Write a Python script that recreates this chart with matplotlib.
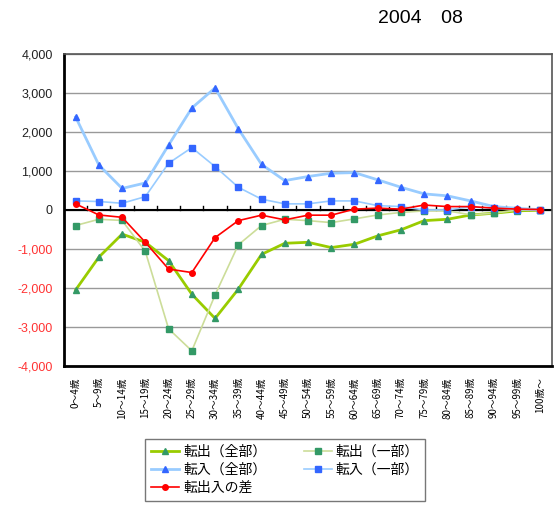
import matplotlib.pyplot as plt
from matplotlib.ticker import FuncFormatter

plt.rcParams['font.family'] = ['Noto Sans CJK JP', 'DejaVu Sans']

# age groups
ages = ['0～4歳', '5～9歳', '10～14歳', '15～19歳', '20～24歳', '25～29歳',
        '30～34歳', '35～39歳', '40～44歳', '45～49歳', '50～54歳', '55～59歳',
        '60～64歳', '65～69歳', '70～74歳', '75～79歳', '80～84歳', '85～89歳',
        '90～94歳', '95～99歳', '100歳～']

out_all = [-2050, -1210, -620, -830, -1300, -2160, -2780, -2030, -1140, -855,
           -830, -965, -880, -665, -510, -275, -240, -130, -85, -25, -5]
out_part = [-400, -240, -270, -1065, -3045, -3610, -2180, -895, -400, -240,
            -275, -325, -230, -130, -65, -25, -25, -125, -85, -5, -3]
in_all = [2380, 1150, 550, 690, 1660, 2610, 3125, 2080, 1165, 750,
          855, 940, 955, 770, 580, 410, 360, 230, 85, 40, 5]
in_part = [230, 215, 170, 340, 1195, 1595, 1110, 580, 275, 155,
           155, 230, 230, 110, 85, 0, 0, 80, 40, 10, 5]
diff = [155, -130, -190, -830, -1515, -1605, -710, -275, -135, -255,
        -135, -135, 20, 45, 20, 125, 85, 85, 45, 20, 10]

fig = plt.figure(figsize=(5.59, 5.07), dpi=100)
ax = fig.add_axes([0.1145, 0.278, 0.873, 0.616])

x = range(len(ages))
l1, = ax.plot(x, out_all, color='#99CC00', lw=2, marker='^', ms=5,
              mfc='#339966', mec='#339966', label='転出（全部）', zorder=3)
l3, = ax.plot(x, out_part, color='#CCDD99', lw=1.2, marker='s', ms=5,
              mfc='#339966', mec='#339966', label='転出（一部）', zorder=3)
l2, = ax.plot(x, in_all, color='#99CCFF', lw=2, marker='^', ms=5,
              mfc='#3366FF', mec='#3366FF', label='転入（全部）', zorder=3)
l4, = ax.plot(x, in_part, color='#99CCFF', lw=1.2, marker='s', ms=5,
              mfc='#3366FF', mec='#3366FF', label='転入（一部）', zorder=3)
l5, = ax.plot(x, diff, color='#FF0000', lw=1.2, marker='o', ms=4,
              mfc='#FF0000', mec='#FF0000', label='転出入の差', zorder=4)

ax.set_xlim(-0.5, len(ages) - 0.5)
ax.set_ylim(-4000, 4000)
ax.set_yticks(range(-4000, 4001, 1000))
ax.yaxis.set_major_formatter(FuncFormatter(lambda v, p: f'{int(v):,}'))
ax.grid(axis='y', color='#999999', lw=1)
ax.set_axisbelow(True)

# zero line with category ticks
ax.axhline(0, color='black', lw=1.5, zorder=2)
for b in range(1, len(ages)):
    ax.plot([b - 0.5, b - 0.5], [0, 90], color='black', lw=1, zorder=2)

ax.set_xticks(list(x))
ax.set_xticklabels(ages, rotation=90, fontsize=7)
ax.tick_params(axis='x', length=0, pad=8)
ax.tick_params(axis='y', length=0, pad=8)
for lbl, v in zip(ax.get_yticklabels(), range(-4000, 4001, 1000)):
    lbl.set_color('#FF3333' if v < 0 else '#222222')
    lbl.set_fontsize(9)
    lbl.set_family(['Liberation Sans', 'DejaVu Sans'])

for side in ['left', 'bottom']:
    ax.spines[side].set_color('black')
    ax.spines[side].set_linewidth(2)
for side in ['top', 'right']:
    ax.spines[side].set_color('#555555')
    ax.spines[side].set_linewidth(1.2)

leg = fig.legend(handles=[l1, l2, l5, l3, l4], ncol=2, loc='lower left',
                 bbox_to_anchor=(0.247, -0.002), fontsize=10, frameon=True,
                 fancybox=False, edgecolor='#555555', handlelength=2.0,
                 columnspacing=2.7, labelspacing=0.28, borderpad=0.45,
                 handletextpad=0.3)

fig.text(0.676, 0.955, '2004　08', fontsize=14,
         family=['Liberation Sans', 'Noto Sans CJK JP'])

fig.savefig('out.png', dpi=100)
